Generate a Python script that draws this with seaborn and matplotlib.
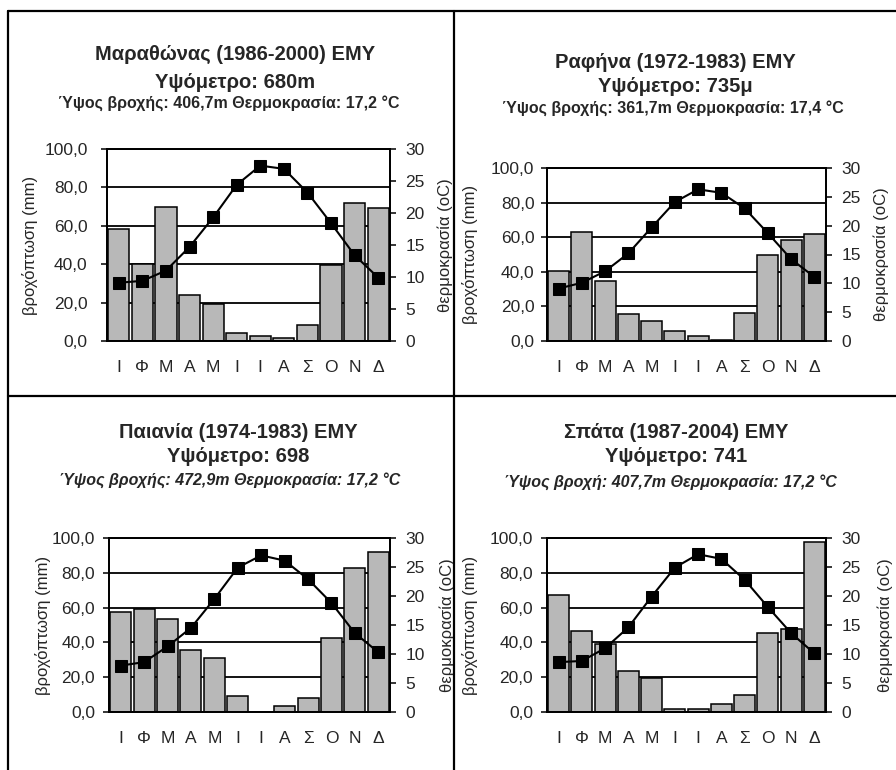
import numpy as np
import pandas as pd
import matplotlib
matplotlib.use("Agg")
import matplotlib.pyplot as plt
from matplotlib.lines import Line2D
import seaborn as sns

# ---------------- data ----------------
month_labels = ["Ι", "Φ", "Μ", "Α", "Μ", "Ι", "Ι", "Α", "Σ", "Ο", "Ν", "Δ"]

marathon_rain = [58.2, 39.9, 70.0, 23.9, 19.5, 4.4, 2.6, 1.7, 8.2, 39.5, 72.1, 69.2]
marathon_temp = [9.1, 9.4, 11.0, 14.7, 19.3, 24.4, 27.4, 26.9, 23.2, 18.4, 13.4, 9.9]

rafina_rain = [40.4, 63.2, 34.6, 15.5, 11.8, 5.6, 2.7, 0.8, 16.2, 49.7, 58.2, 61.7]
rafina_temp = [9.1, 10.1, 12.1, 15.2, 19.7, 24.1, 26.3, 25.7, 23.0, 18.7, 14.2, 11.1]

paiania_rain = [57.4, 59.3, 53.6, 35.9, 30.9, 9.0, 0.0, 3.3, 8.1, 42.6, 82.7, 91.9]
paiania_temp = [8.0, 8.6, 11.3, 14.5, 19.5, 24.9, 27.0, 26.1, 22.9, 18.8, 13.6, 10.3]

spata_rain = [67.1, 46.7, 39.0, 23.7, 19.6, 1.5, 1.5, 4.6, 9.6, 45.2, 47.5, 97.7]
spata_temp = [8.6, 8.8, 11.0, 14.6, 19.9, 24.9, 27.2, 26.4, 22.8, 18.1, 13.6, 10.1]

titles = ["Μαραθώνας (1986-2000) ΕΜΥ", "Ραφήνα (1972-1983) ΕΜΥ",
          "Παιανία (1974-1983) ΕΜΥ", "Σπάτα (1987-2004) ΕΜΥ"]
elevations = ["Υψόμετρο: 680m", "Υψόμετρο: 735μ", "Υψόμετρο: 698", "Υψόμετρο: 741"]
subtitles = ["Ύψος βροχής: 406,7m Θερμοκρασία: 17,2 °C",
             "Ύψος βροχής: 361,7m Θερμοκρασία: 17,4 °C",
             "Ύψος βροχής: 472,9m Θερμοκρασία: 17,2 °C",
             "Ύψος βροχή: 407,7m Θερμοκρασία: 17,2 °C"]
rain_ticks = [0, 20, 40, 60, 80, 100]
temp_ticks = [0, 5, 10, 15, 20, 25, 30]
rain_label = "βροχόπτωση (mm)"
temp_labels = ["θερμοκρασία (oC)", "θερμοκρασία (oC)", "θερμοκρασία (oC)", "θερμοκρασία (oC)"]

stations = [(marathon_rain, marathon_temp), (rafina_rain, rafina_temp),
            (paiania_rain, paiania_temp), (spata_rain, spata_temp)]

# ---------------- style ----------------
sns.set_style("white")
plt.rcParams["font.family"] = ["Liberation Sans", "DejaVu Sans"]

W, H = 896, 770
fig = plt.figure(figsize=(W / 100, H / 100), dpi=100)
fig.patch.set_facecolor("white")

def fx(x):
    return x / W

def fy(y):
    return 1 - y / H

# layout (pixels): left, right, top, bottom of each plot area
boxes = [(107, 390, 149, 341), (547, 826, 168, 341),
         (109, 390, 538, 712), (547, 826, 538, 712)]
title_pos = [(235, 54, 82, 103), (675, 62, 87, 108),
             (238, 432, 457, 480), (676, 432, 457, 482)]
sub_center = [229, 673, 230, 670]
left_lab_x = [30, 470, 43, 470]
right_lab_x = [445, 881, 447, 885]
left_pad = [10, 5, 6, 6]
sub_style = ["normal", "normal", "italic", "italic"]

bar_color = "#b8b8b8"

for i, ((rain, temp), (l, r, t, b)) in enumerate(zip(stations, boxes)):
    df = pd.DataFrame({"month": np.arange(12), "rain": rain, "temp": temp})
    ax = fig.add_axes([fx(l), fy(b), (r - l) / W, (b - t) / H])
    ax.set_facecolor("none")
    ax.set_axisbelow(True)
    sns.barplot(data=df, x="month", y="rain", ax=ax, color=bar_color,
                saturation=1, edgecolor="black", linewidth=1.1, width=0.9, zorder=2)
    ax.set_xlim(-0.5, 11.5)
    ax.set_ylim(0, 100)
    ax.set_yticks(rain_ticks)
    ax.set_yticklabels([f"{v:.1f}".replace(".", ",") for v in rain_ticks], fontsize=12.5)
    ax.yaxis.grid(True, color="black", linewidth=1.3, zorder=0)
    ax.xaxis.grid(False)
    ax.set_xticks(np.arange(12))
    ax.set_xticklabels(month_labels, fontsize=12.5)
    ax.set_xticks(np.arange(-0.5, 12, 1), minor=True)
    ax.tick_params(axis="x", which="major", length=0, pad=14)
    ax.tick_params(axis="x", which="minor", length=5, width=1.1, direction="out", color="black")
    ax.tick_params(axis="y", which="major", length=4, width=1.1, direction="out",
                   color="black", pad=left_pad[i], left=True)
    ax.set_xlabel("")
    ax.set_ylabel("")
    for s in ax.spines.values():
        s.set_visible(True)
        s.set_color("black")
        s.set_linewidth(1.3)

    ax2 = ax.twinx()
    sns.lineplot(data=df, x="month", y="temp", ax=ax2, color="black", marker="s",
                 markersize=8, markeredgecolor="black", markerfacecolor="black",
                 linewidth=1.5)
    ax2.set_ylim(0, 30)
    ax2.set_xlim(-0.5, 11.5)
    ax2.set_yticks(temp_ticks)
    ax2.set_yticklabels([str(v) for v in temp_ticks], fontsize=12.5)
    ax2.tick_params(axis="y", length=4, width=1.1, direction="out", color="black",
                    pad=7, right=True)
    ax2.set_ylabel("")
    ax2.set_xlabel("")
    for s in ax2.spines.values():
        s.set_visible(True)
        s.set_color("black")
        s.set_linewidth(1.3)

    yc = fy((t + b) / 2)
    fig.text(fx(left_lab_x[i]), yc, rain_label, rotation=90, ha="center", va="center",
             fontsize=12)
    fig.text(fx(right_lab_x[i]), yc, temp_labels[i], rotation=90, ha="center",
             va="center", fontsize=12)

    cx, ty, ey, sy = title_pos[i]
    fig.text(fx(cx), fy(ty), titles[i], ha="center", va="center", fontsize=14.5,
             fontweight="bold")
    fig.text(fx(cx), fy(ey), elevations[i], ha="center", va="center", fontsize=14.5,
             fontweight="bold")
    fig.text(fx(sub_center[i]), fy(sy), subtitles[i], ha="center", va="center",
             fontsize=11.5, fontweight="bold", fontstyle=sub_style[i])

# frame lines
lw = 1.6
for (x0, y0, x1, y1) in [(8, 11, W, 11), (8, 11, 8, H), (454, 11, 454, H), (8, 396, W, 396)]:
    fig.add_artist(Line2D([fx(x0), fx(x1)], [fy(y0), fy(y1)], color="black",
                          linewidth=lw, zorder=10))

fig.savefig("out.png", dpi=100, facecolor="white")
